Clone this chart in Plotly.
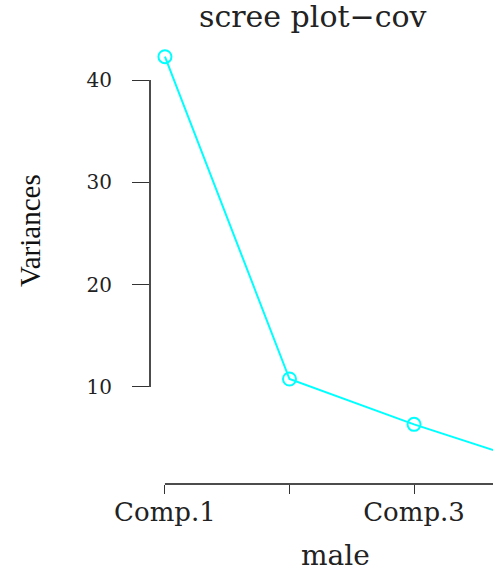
import plotly.graph_objects as go

components = ["Comp.1", "Comp.2", "Comp.3", "Comp.4"]
variances = [42.28, 10.78, 6.35, 2.4]
tick_labels = ["Comp.1", "", "Comp.3", ""]
y_ticks = [10, 20, 30, 40]

title_text = "scree plot\u2212cov"
x_title = "male"
y_title = "Variances"

idx = list(range(1, len(components) + 1))

fig = go.Figure()
fig.add_trace(go.Scatter(
    x=idx, y=variances, mode="lines+markers",
    line=dict(color="#00FFFF", width=2),
    marker=dict(symbol="circle-open", size=13, color="#00FFFF", line=dict(width=2, color="#00FFFF")),
    cliponaxis=True, hoverinfo="skip", showlegend=False,
))

x_range = [0.88, 3.634]
y_range = [0.52, 43.91]

serif = "DejaVu Serif"

fig.update_layout(
    width=493, height=576,
    margin=dict(l=150, r=0, t=40, b=92),
    paper_bgcolor="white", plot_bgcolor="white",
    xaxis=dict(range=x_range, tickmode="array", tickvals=idx, ticktext=tick_labels,
               showgrid=False, zeroline=False, showline=False,
               ticks="outside", ticklen=9, tickcolor="#333", tickwidth=1,
               tickfont=dict(family=serif, size=26, color="#222"), ticklabelstandoff=-4),
    yaxis=dict(range=y_range, tickmode="array", tickvals=y_ticks,
               showgrid=False, zeroline=False, showline=False,
               ticks="outside", ticklen=17, tickcolor="#333", tickwidth=1,
               tickfont=dict(family=serif, size=20, color="#222"), ticklabelstandoff=16),
    shapes=[
        dict(type="line", xref="paper", yref="y", x0=0, x1=0, y0=min(y_ticks), y1=max(y_ticks),
             line=dict(color="#111", width=1.5)),
        dict(type="line", xref="x", yref="paper", x0=1, x1=x_range[1], y0=0, y1=0,
             line=dict(color="#111", width=1.5)),
    ],
    annotations=[
        dict(text=title_text, xref="paper", yref="paper", x=(312 - 150) / 343, y=1 + (40 - 17) / 444,
             xanchor="center", yanchor="middle", showarrow=False,
             font=dict(family=serif, size=30, color="#222")),
        dict(text=x_title, xref="paper", yref="paper", x=(335 - 150) / 343, y=-(555 - 484) / 444,
             xanchor="center", yanchor="middle", showarrow=False,
             font=dict(family=serif, size=28, color="#222")),
        dict(text=y_title, xref="paper", yref="paper", x=(30 - 150) / 343, y=(484 - 231) / 444,
             xanchor="center", yanchor="middle", showarrow=False, textangle=-90,
             font=dict(family="Liberation Serif", size=29, color="#111")),
    ],
)

fig.write_html("out.html", config={"displayModeBar": False},
               post_script="document.body.style.margin='0';document.body.style.overflow='hidden';")
